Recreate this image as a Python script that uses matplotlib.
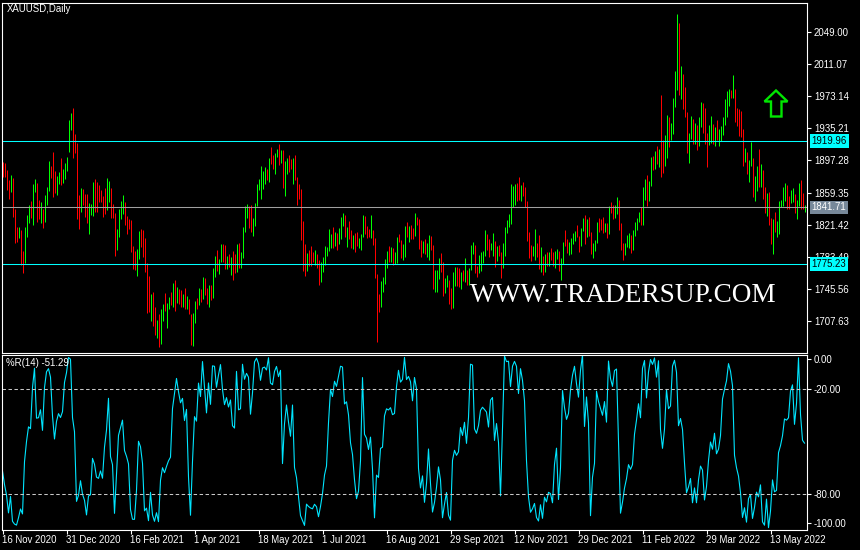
import matplotlib
matplotlib.use('Agg')
import matplotlib.pyplot as plt
from matplotlib.patches import Polygon
from matplotlib.transforms import blended_transform_factory
import numpy as np

plt.rcParams['font.family'] = ['Liberation Sans', 'DejaVu Sans']
plt.rcParams['lines.scale_dashes'] = False

# ---- data: XAUUSD daily bars (high / low / close), 16 Nov 2020 .. 7 Jun 2022
# 13 bars before 16 Nov 2020 only feed the %R(14) window, they are left of the view
pre_highs = [1911, 1884, 1882, 1897, 1911, 1916, 1952, 1965, 1966, 1885, 1881, 1881, 1892]
pre_lows = [1869, 1860, 1860, 1872, 1882, 1873, 1898, 1935, 1850, 1849, 1858, 1861, 1869]
pre_closes = [1877, 1867, 1879, 1895, 1908, 1903, 1948, 1951, 1863, 1877, 1866, 1873, 1889]

highs = [
    1895, 1893.9, 1886.0, 1874.2, 1880.1, 1876.5, 1839.8, 1818.5, 1818.5, 1815.0,
    1789.7, 1818.5, 1832.7, 1844.2, 1848.9, 1869.4, 1874.9, 1870.2, 1850.1, 1848.1,
    1839.8, 1856.4, 1865.9, 1896.7, 1890.7, 1907.3, 1884.8, 1878.9, 1883.6, 1900.2,
    1887.2, 1894.3, 1901.4, 1945.2, 1953.5, 1959.4, 1928.6, 1918.0, 1856.0, 1864.3,
    1863.1, 1857.6, 1857.6, 1846.5, 1845.7, 1871.8, 1875.3, 1871.8, 1868.2, 1862.3,
    1855.2, 1864.7, 1876.5, 1873.0, 1864.7, 1845.7, 1835.1, 1816.2, 1839.8, 1849.3,
    1856.4, 1848.1, 1831.5, 1828.0, 1826.8, 1796.0, 1790.1, 1792.5, 1813.8, 1816.2,
    1815.0, 1805.5, 1775.5, 1760.5, 1739.2, 1741.6, 1723.8, 1708.4, 1715.5, 1721.4,
    1727.4, 1740.4, 1728.5, 1735.7, 1741.6, 1752.2, 1755.8, 1747.5, 1745.1, 1744.0,
    1739.2, 1746.3, 1736.8, 1733.3, 1715.5, 1716.7, 1730.9, 1734.5, 1746.3, 1745.1,
    1759.3, 1758.1, 1746.3, 1749.9, 1749.9, 1770.0, 1784.2, 1791.3, 1780.6, 1798.4,
    1798.4, 1797.2, 1784.2, 1786.5, 1783.0, 1790.1, 1786.5, 1798.4, 1799.6, 1788.9,
    1818.5, 1843.4, 1845.7, 1843.4, 1844.6, 1829.2, 1846.9, 1869.4, 1875.3, 1890.7,
    1884.8, 1889.5, 1887.2, 1900.2, 1913.2, 1903.7, 1906.1, 1910.9, 1916.8, 1909.7,
    1909.7, 1896.7, 1900.2, 1903.7, 1899.0, 1900.2, 1903.7, 1877.7, 1869.4, 1863.5,
    1825.6, 1798.4, 1787.7, 1791.3, 1796.0, 1788.9, 1791.3, 1786.5, 1779.4, 1777.1,
    1783.0, 1796.0, 1794.8, 1816.2, 1810.2, 1818.5, 1812.6, 1811.4, 1817.3, 1830.4,
    1835.1, 1832.7, 1818.5, 1825.6, 1815.0, 1809.0, 1811.4, 1812.6, 1805.5, 1810.2,
    1832.7, 1831.5, 1819.7, 1816.2, 1832.7, 1815.0, 1805.5, 1762.9, 1739.2, 1754.6,
    1759.3, 1780.6, 1790.1, 1796.0, 1794.8, 1793.7, 1788.9, 1806.7, 1810.2, 1803.1,
    1798.4, 1819.7, 1824.4, 1819.7, 1820.9, 1817.3, 1835.1, 1830.4, 1828.0, 1803.1,
    1801.9, 1804.3, 1799.6, 1809.0, 1807.9, 1797.2, 1767.6, 1767.6, 1781.8, 1787.7,
    1777.1, 1758.1, 1761.7, 1755.8, 1746.3, 1765.2, 1771.2, 1771.2, 1770.0, 1765.2,
    1767.6, 1781.8, 1767.6, 1770.0, 1797.2, 1800.8, 1797.2, 1772.3, 1785.4, 1788.9,
    1790.1, 1815.0, 1810.2, 1804.3, 1799.6, 1811.4, 1801.9, 1796.0, 1797.2, 1788.9,
    1799.6, 1818.5, 1826.8, 1833.9, 1869.4, 1867.0, 1869.4, 1870.6, 1877.7, 1868.2,
    1871.8, 1865.9, 1849.3, 1812.6, 1797.2, 1796.0, 1816.2, 1799.6, 1809.0, 1794.8,
    1784.2, 1786.5, 1788.9, 1788.9, 1793.6, 1788.9, 1790.1, 1792.4, 1790.1, 1781.8,
    1800.7, 1815.0, 1804.3, 1800.7, 1805.5, 1811.4, 1813.8, 1820.9, 1807.8, 1817.3,
    1829.1, 1832.7, 1827.9, 1830.3, 1812.6, 1799.6, 1803.1, 1824.4, 1829.1, 1827.9,
    1830.3, 1823.2, 1823.2, 1843.3, 1848.1, 1844.5, 1844.5, 1854.0, 1850.4, 1823.2,
    1799.6, 1799.6, 1809.0, 1811.4, 1809.0, 1814.9, 1824.4, 1829.1, 1836.2, 1842.2,
    1865.8, 1875.3, 1880.0, 1872.9, 1901.3, 1902.5, 1908.4, 1914.4, 1910.8, 1974.7,
    1921.5, 1927.4, 1951.1, 1948.7, 1941.6, 1971.2, 2003.1, 2070.6, 2060.0, 2009.1,
    1999.6, 1984.2, 1954.6, 1929.8, 1949.9, 1946.3, 1941.6, 1939.2, 1948.7, 1966.5,
    1965.3, 1959.3, 1929.8, 1939.2, 1949.9, 1940.4, 1936.9, 1945.1, 1934.5, 1938.0,
    1948.7, 1970.0, 1979.5, 1981.8, 1980.7, 1998.4, 1981.8, 1959.3, 1958.2, 1955.8,
    1934.5, 1912.0, 1907.3, 1897.8, 1919.1, 1900.2, 1878.9, 1890.7, 1910.8, 1893.0,
    1886.0, 1865.8, 1858.7, 1859.9, 1829.1, 1827.9, 1836.2, 1825.6, 1849.3, 1850.4,
    1865.8, 1870.6, 1868.2, 1855.2, 1862.3, 1864.6, 1857.5, 1850.4, 1870.6, 1874.1,
    1858.7, 1844.5,
]

lows = [
    1878, 1877.3, 1862.7, 1852.1, 1860.3, 1830.8, 1800.0, 1801.2, 1805.9, 1773.9,
    1764.5, 1775.5, 1807.1, 1823.6, 1829.6, 1820.9, 1860.3, 1824.8, 1828.0, 1823.6,
    1817.7, 1824.8, 1844.6, 1861.1, 1876.5, 1854.4, 1859.2, 1856.8, 1869.4, 1868.2,
    1870.6, 1875.3, 1884.8, 1907.7, 1933.3, 1900.2, 1906.1, 1828.0, 1816.2, 1836.7,
    1844.2, 1830.8, 1823.3, 1810.6, 1832.7, 1831.5, 1836.7, 1836.7, 1848.1, 1848.1,
    1830.4, 1834.3, 1839.0, 1848.1, 1829.2, 1829.2, 1784.6, 1791.3, 1806.7, 1828.0,
    1834.3, 1820.9, 1810.6, 1816.2, 1788.9, 1768.8, 1768.0, 1760.9, 1780.6, 1795.0,
    1783.4, 1765.6, 1717.1, 1718.3, 1707.2, 1701.3, 1690.7, 1686.7, 1676.9, 1680.0,
    1707.2, 1719.1, 1699.0, 1721.5, 1726.2, 1723.8, 1719.1, 1728.5, 1727.4, 1723.8,
    1723.8, 1721.4, 1721.4, 1715.5, 1678.8, 1677.6, 1704.9, 1721.4, 1726.2, 1729.7,
    1733.3, 1738.0, 1727.4, 1723.8, 1732.1, 1734.5, 1759.3, 1766.4, 1762.9, 1777.1,
    1777.1, 1768.8, 1768.8, 1771.2, 1761.7, 1755.8, 1764.1, 1765.2, 1770.0, 1770.0,
    1781.8, 1812.6, 1829.2, 1817.3, 1812.6, 1807.9, 1819.7, 1843.4, 1862.3, 1851.7,
    1863.5, 1869.4, 1874.2, 1871.8, 1893.1, 1887.2, 1881.3, 1901.4, 1891.9, 1894.3,
    1864.7, 1855.2, 1881.3, 1883.6, 1887.2, 1869.4, 1874.2, 1844.6, 1851.7, 1803.1,
    1766.4, 1760.5, 1766.4, 1772.3, 1772.3, 1777.1, 1773.5, 1770.0, 1749.9, 1753.4,
    1765.2, 1773.5, 1784.2, 1790.1, 1793.7, 1793.7, 1796.0, 1791.3, 1798.4, 1804.3,
    1819.7, 1806.7, 1794.8, 1804.3, 1793.7, 1792.5, 1788.9, 1796.0, 1793.7, 1791.3,
    1806.7, 1810.2, 1805.5, 1806.7, 1805.5, 1797.2, 1758.1, 1682.4, 1717.9, 1723.8,
    1741.6, 1751.1, 1770.0, 1777.1, 1777.1, 1773.5, 1774.7, 1775.9, 1800.8, 1781.8,
    1779.4, 1783.0, 1806.7, 1800.8, 1804.3, 1804.3, 1807.9, 1820.9, 1792.5, 1783.0,
    1787.7, 1786.5, 1783.0, 1779.4, 1791.3, 1745.1, 1741.6, 1741.6, 1757.0, 1765.2,
    1736.8, 1740.4, 1747.5, 1727.4, 1721.4, 1722.6, 1748.7, 1748.7, 1747.5, 1745.1,
    1754.6, 1753.4, 1749.9, 1749.9, 1767.6, 1786.5, 1764.1, 1759.3, 1764.1, 1766.4,
    1775.9, 1784.2, 1791.3, 1783.0, 1791.3, 1784.2, 1771.2, 1778.3, 1784.2, 1758.1,
    1770.0, 1784.2, 1811.4, 1818.5, 1822.1, 1842.2, 1844.6, 1849.3, 1850.5, 1849.3,
    1855.2, 1842.2, 1801.9, 1781.8, 1778.3, 1784.2, 1779.4, 1783.0, 1768.8, 1765.2,
    1761.7, 1765.2, 1772.3, 1772.3, 1779.4, 1772.3, 1769.9, 1780.6, 1766.4, 1755.7,
    1774.7, 1796.0, 1787.7, 1785.3, 1786.5, 1798.4, 1801.9, 1806.7, 1788.9, 1796.0,
    1813.8, 1798.4, 1806.7, 1807.8, 1786.5, 1781.8, 1790.1, 1799.6, 1812.6, 1814.9,
    1811.4, 1812.6, 1805.5, 1810.2, 1835.1, 1827.9, 1829.1, 1833.9, 1814.9, 1791.3,
    1779.4, 1785.3, 1794.8, 1793.6, 1787.7, 1791.3, 1807.8, 1815.0, 1824.4, 1820.9,
    1820.9, 1850.4, 1843.3, 1849.3, 1867.0, 1885.9, 1887.1, 1893.0, 1889.5, 1877.7,
    1882.4, 1890.7, 1900.2, 1913.2, 1921.5, 1928.6, 1960.5, 1980.7, 1974.7, 1970.0,
    1958.2, 1948.7, 1906.1, 1894.2, 1922.7, 1916.7, 1916.7, 1909.6, 1914.4, 1936.9,
    1929.8, 1916.7, 1889.9, 1915.5, 1917.9, 1916.7, 1914.4, 1921.5, 1914.4, 1920.3,
    1927.4, 1939.2, 1948.7, 1961.7, 1971.2, 1971.2, 1942.8, 1938.0, 1926.2, 1925.4,
    1890.7, 1895.4, 1881.2, 1871.8, 1890.7, 1854.0, 1849.3, 1861.1, 1865.8, 1865.8,
    1851.6, 1835.1, 1831.5, 1820.9, 1798.4, 1786.5, 1812.6, 1806.6, 1810.2, 1842.2,
    1843.3, 1849.3, 1839.8, 1839.8, 1846.9, 1848.1, 1835.1, 1827.9, 1843.3, 1839.8,
    1839.8, 1836.6,
]

closes = [
    1888, 1879, 1872, 1860, 1871, 1837, 1805, 1804, 1811, 1788,
    1776, 1815, 1830, 1841, 1839, 1863, 1871, 1838, 1836, 1840,
    1827, 1854, 1864, 1886, 1881, 1872, 1864, 1873, 1877, 1875,
    1878, 1893, 1898, 1943, 1950, 1918, 1913, 1849, 1844, 1856,
    1845, 1840, 1828, 1839, 1840, 1871, 1866, 1855, 1854, 1850,
    1842, 1841, 1848, 1860, 1838, 1835, 1793, 1813, 1834, 1838,
    1842, 1826, 1823, 1819, 1795, 1775, 1774, 1784, 1809, 1806,
    1797, 1771, 1734, 1724, 1737, 1712, 1697, 1700, 1683, 1716,
    1726, 1722, 1727, 1731, 1730, 1745, 1742, 1745, 1739, 1734,
    1736, 1726, 1732, 1716, 1685, 1708, 1728, 1726, 1743, 1737,
    1756, 1744, 1732, 1746, 1736, 1764, 1777, 1770, 1778, 1793,
    1783, 1777, 1780, 1776, 1779, 1768, 1767, 1792, 1779, 1786,
    1815, 1831, 1836, 1834, 1815, 1826, 1843, 1867, 1869, 1872,
    1881, 1882, 1880, 1898, 1896, 1895, 1903, 1906, 1903, 1908,
    1871, 1891, 1898, 1893, 1888, 1899, 1877, 1866, 1858, 1812,
    1774, 1764, 1782, 1780, 1778, 1777.3, 1781, 1779, 1761, 1770,
    1776, 1787, 1791, 1796, 1803, 1802, 1808, 1806, 1810, 1825,
    1829, 1811, 1813, 1811, 1804, 1806, 1802, 1797, 1799, 1807,
    1829, 1814, 1813, 1810, 1812, 1804, 1763, 1729, 1727, 1752,
    1753, 1780, 1786, 1785, 1787, 1781, 1782, 1805, 1803, 1790,
    1792, 1818, 1810, 1814, 1813, 1810, 1827, 1823, 1795, 1789,
    1794, 1788, 1794, 1805, 1794, 1754, 1756, 1764, 1775, 1768,
    1743, 1750, 1752, 1734, 1726, 1756, 1761, 1758, 1755, 1760,
    1757, 1762, 1754, 1760, 1793, 1796, 1767, 1765, 1769, 1783,
    1784, 1793, 1792, 1788, 1798, 1799, 1783, 1793, 1787, 1769,
    1791, 1818, 1824, 1831, 1849, 1862, 1865, 1863, 1851, 1868,
    1860, 1846, 1805, 1790, 1788, 1790, 1793, 1785, 1774, 1781,
    1769, 1783, 1779, 1785, 1783, 1775, 1782, 1787, 1771, 1777,
    1798, 1797, 1793, 1795, 1803, 1808, 1811, 1810, 1805, 1815,
    1829, 1801, 1814, 1810, 1789, 1797, 1801, 1822, 1819, 1817,
    1815, 1819, 1813, 1841, 1839, 1836, 1842, 1848, 1819, 1796,
    1791, 1797, 1801, 1807, 1805, 1807, 1820, 1826, 1833, 1827,
    1859, 1872, 1855, 1870, 1898, 1896, 1906, 1898, 1910, 1903,
    1889, 1909, 1944, 1927, 1936, 1966, 1998, 2050, 1992, 2000,
    1988, 1951, 1918, 1928, 1943, 1921, 1936, 1921, 1944, 1958,
    1954, 1922, 1919, 1933, 1937, 1925, 1932, 1923, 1925, 1931,
    1947, 1954, 1966, 1977, 1973, 1979, 1950, 1944, 1940, 1932,
    1898, 1904, 1886, 1894, 1897, 1863, 1868, 1881, 1877, 1883,
    1854, 1838, 1853, 1822, 1811, 1824, 1815, 1816, 1841, 1846,
    1853, 1865, 1853, 1850, 1853, 1856, 1837, 1847, 1869, 1851,
    1841, 1841.71,
]

date_labels = ['16 Nov 2020', '31 Dec 2020', '16 Feb 2021', '1 Apr 2021', '18 May 2021',
               '1 Jul 2021', '16 Aug 2021', '29 Sep 2021', '12 Nov 2021', '29 Dec 2021',
               '11 Feb 2022', '29 Mar 2022', '13 May 2022']
date_bars = [0, 32, 64, 96, 128, 160, 192, 224, 256, 288, 320, 352, 384]

price_ticks = [2049.00, 2011.07, 1973.14, 1935.21, 1897.28, 1859.35, 1821.42, 1783.49, 1745.56, 1707.63]
hlines_cyan = [1919.96, 1775.23]
bid = 1841.71
wr_levels = [-20, -80]
wr_label_vals = [-2.6, -20, -80, -96.5]
wr_label_txt = ['0.00', '-20.00', '-80.00', '-100.00']

assert len(highs) == len(lows) == len(closes) == 402

# ---- %R(14)
H = np.array(pre_highs + highs)
L = np.array(pre_lows + lows)
C = np.array(pre_closes + closes)
npre = len(pre_highs)
wr = []
for k in range(npre, len(C)):
    hh = H[max(0, k - 13):k + 1].max()
    ll = L[max(0, k - 13):k + 1].min()
    wr.append(-100.0 * (hh - C[k]) / (hh - ll))
wr = np.array(wr)

xs = np.arange(len(closes))
prev = C[npre - 1:-1]
cols = np.where(np.array(closes) > prev, '#00FF00', '#FF0000')

# ---- layout in pixels
W, Hpx = 860, 550
def fx(px):
    return px / W
def fy(py):
    return 1 - py / Hpx

CYAN = '#00FFFF'
WHITE = 'white'
FS = 6.9

fig = plt.figure(figsize=(8.6, 5.5), dpi=100, facecolor='black')
ax = fig.add_axes([fx(2.0), fy(352.5), 805 / W, 350 / Hpx], facecolor='black')
ax2 = fig.add_axes([fx(2.0), fy(529.5), 805 / W, 175 / Hpx], facecolor='black')

for a in (ax, ax2):
    for s in a.spines.values():
        s.set_color(WHITE)
        s.set_linewidth(0.8)
    a.set_xlim(-0.25, 402.25)
    a.yaxis.tick_right()
    a.tick_params(axis='y', colors=WHITE, labelsize=FS, length=3, width=0.8, pad=2)

# main price panel, one pixel wide high-low bars
ax.vlines(xs, lows, highs, colors=list(cols), linewidth=0.72, snap=True)
for v in hlines_cyan:
    ax.axhline(v, color=CYAN, linewidth=0.75)
ax.axhline(bid, color='#A0A0A0', linewidth=0.75)
ax.set_ylim(1670.0, 2084.3)
ax.set_yticks(price_ticks)
ax.set_yticklabels(['%.2f' % v for v in price_ticks])
ax.set_xticks([])

tr = blended_transform_factory(ax.transAxes, ax.transData)
for v in hlines_cyan:
    ax.text(1.0055, v, '%.2f' % v, transform=tr, ha='left', va='center', fontsize=FS,
            color='black', zorder=5,
            bbox=dict(boxstyle='square,pad=0.2', fc=CYAN, ec='none'))
ax.text(1.0055, bid, '%.2f' % bid, transform=tr, ha='left', va='center', fontsize=FS,
        color=WHITE, zorder=5, bbox=dict(boxstyle='square,pad=0.2', fc='#778899', ec='none'))

fig.text(fx(6.5), fy(9.5), 'XAUUSD,Daily', color=WHITE, fontsize=FS, va='center', ha='left')

# watermark
fig.text(fx(470), fy(301.5), 'WWW.TRADERSUP.COM', color=WHITE, fontsize=19.6,
         family='Liberation Serif', va='baseline', ha='left')

# green outline arrow
arrow_px = [(776, 90.5), (787.5, 101.5), (781.5, 101.5), (781.5, 116.5),
            (771, 116.5), (771, 101.5), (764.5, 101.5)]
arrow = Polygon([(fx(x), fy(y)) for x, y in arrow_px], closed=True, transform=fig.transFigure,
                fc='black', ec='#00E600', lw=1.7)
fig.add_artist(arrow)

# %R panel
ax2.plot(xs, wr, color='#00E5FF', linewidth=0.8)
for lv in wr_levels:
    ax2.axhline(lv, color='#C8C8C8', linewidth=0.75, linestyle=(0, (2.5, 1.8)))
ax2.set_ylim(-100.1, 0.0)
ax2.set_yticks(wr_label_vals)
ax2.set_yticklabels(wr_label_txt)
ax2.set_xticks(date_bars)
ax2.set_xticklabels(date_labels)
ax2.tick_params(axis='x', colors=WHITE, labelsize=FS, length=3, width=0.8, pad=1.2)
for t in ax2.get_xticklabels():
    t.set_horizontalalignment('left')
fig.text(fx(6.5), fy(363.5), '%R(14) -51.29', color=WHITE, fontsize=FS, va='center', ha='left')

fig.savefig('out.png', dpi=100, facecolor='black')
